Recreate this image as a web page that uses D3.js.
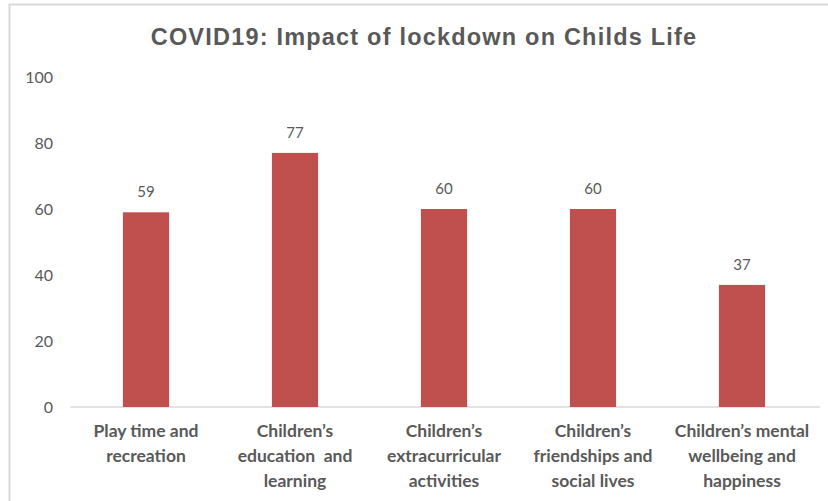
<!DOCTYPE html>
<html><head><meta charset="UTF-8">
<script src="https://d3js.org/d3.v7.min.js"></script>
<style>
  body { margin: 0; background: #fff; }
  svg text { font-family: Lato, "Open Sans", sans-serif; fill: #595959; }
</style>
</head>
<body>
<div id="body"></div>
<script>
var w = 828, h = 501;

var title = "COVID19: Impact of lockdown on Childs Life";
var categories = [
  ["Play time and", "recreation"],
  ["Children\u2019s", "education  and", "learning"],
  ["Children\u2019s", "extracurricular", "activities"],
  ["Children\u2019s", "friendships and", "social lives"],
  ["Children\u2019s mental", "wellbeing and", "happiness"]
];
var values = [59, 77, 60, 60, 37];
var yTicks = [0, 20, 40, 60, 80, 100];

var margin = {left: 71.5, right: 11.5, top: 77, bottom: 94};

var svg = d3.select("#body").append("svg")
    .attr("width", w)
    .attr("height", h);

// chart frame (only top and left edges fall inside the picture)
svg.append("rect")
    .attr("x", 9.5).attr("y", 4.5)
    .attr("width", w + 20).attr("height", h + 20)
    .attr("fill", "#fff")
    .attr("stroke", "#d9d9d9")
    .attr("stroke-width", 2);

var x = d3.scaleBand()
    .domain(d3.range(values.length))
    .range([margin.left, w - margin.right])
    .paddingInner(0.69)
    .paddingOuter(0.345);

var y = d3.scaleLinear()
    .domain([0, 100])
    .range([h - margin.bottom, margin.top]);

svg.append("text")
    .attr("x", 424)
    .attr("y", 44.5)
    .attr("text-anchor", "middle")
    .style("font-family", "'Liberation Sans', Arial, sans-serif")
    .style("font-size", "23.5px")
    .style("letter-spacing", "1.2px")
    .style("font-weight", "bold")
    .text(title);

// y axis labels, no line
var yAxis = svg.append("g")
    .attr("transform", "translate(53,0)")
    .call(d3.axisLeft(y).tickValues(yTicks).tickSize(0).tickPadding(0));
yAxis.select(".domain").remove();
yAxis.selectAll("text")
    .style("font-size", "16px")
    .attr("fill", "#595959");

// baseline
svg.append("line")
    .attr("x1", margin.left - 1).attr("x2", 820)
    .attr("y1", y(0)).attr("y2", y(0))
    .attr("stroke", "#d9d9d9")
    .attr("stroke-width", 1.3);

svg.selectAll(".bar")
    .data(values)
    .enter().append("rect")
    .attr("class", "bar")
    .attr("x", function(d, i) { return x(i); })
    .attr("y", function(d) { return y(d); })
    .attr("width", x.bandwidth())
    .attr("height", function(d) { return y(0) - y(d); })
    .attr("fill", "#c0504d");

svg.selectAll(".val")
    .data(values)
    .enter().append("text")
    .attr("class", "val")
    .attr("x", function(d, i) { return x(i) + x.bandwidth() / 2; })
    .attr("y", function(d) { return y(d) - 15; })
    .attr("text-anchor", "middle")
    .style("font-size", "15px")
    .text(function(d) { return d; });

var cats = svg.selectAll(".cat")
    .data(categories)
    .enter().append("text")
    .attr("class", "cat")
    .attr("text-anchor", "middle")
    .style("font-size", "17.5px")
    .style("font-weight", "bold");

cats.selectAll("tspan")
    .data(function(d, i) { return d.map(function(s) { return {s: s, i: i}; }); })
    .enter().append("tspan")
    .attr("x", function(d) { return x(d.i) + x.bandwidth() / 2; })
    .attr("y", function(d, j) { return 437 + j * 25; })
    .style("white-space", "pre")
    .text(function(d) { return d.s; });
</script>
</body></html>
